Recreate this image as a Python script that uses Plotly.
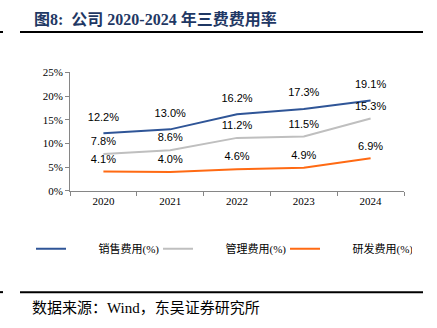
import plotly.graph_objects as go

years = ["2020", "2021", "2022", "2023", "2024"]
sales = [12.2, 13.0, 16.2, 17.3, 19.1]
admin = [7.8, 8.6, 11.2, 11.5, 15.3]
rnd = [4.1, 4.0, 4.6, 4.9, 6.9]
names = ["销售费用(%)", "管理费用(%)", "研发费用(%)"]
colors = ["#2F5597", "#BFBFBF", "#FF6A13"]
label_pad = [14, 8, 8]

W, H = 437, 328
NB = "\u00a0" * 10

fig = go.Figure()
for vals, name, col in zip([sales, admin, rnd], names, colors):
    fig.add_trace(go.Scatter(
        x=years, y=vals, name=NB + name, mode="lines",
        line=dict(color=col, width=2),
    ))
for vals, pad in zip([sales, admin, rnd], label_pad):
    fig.add_trace(go.Scatter(
        x=years, y=vals, mode="markers+text", showlegend=False, hoverinfo="skip",
        marker=dict(size=pad, opacity=0),
        text=[f"{v:.1f}%" for v in vals], textposition="top center",
        textfont=dict(family="Liberation Sans, Arial", size=11, color="#000000"),
        cliponaxis=False,
    ))

fig.update_layout(
    width=W, height=H, margin=dict(l=0, r=0, t=0, b=0),
    paper_bgcolor="white", plot_bgcolor="white",
    showlegend=True,
    legend=dict(orientation="h", x=31 / W, xanchor="left", y=(H - 252) / H, yanchor="middle",
                entrywidth=82, entrywidthmode="pixels",
                font=dict(family="Liberation Serif, Noto Sans CJK SC", size=11, color="#000000"),
                bgcolor="rgba(0,0,0,0)", tracegroupgap=0),
    xaxis=dict(domain=[70 / W, 404 / W], type="category", range=[-0.5, 4.5],
               tickson="boundaries", ticks="outside", ticklen=4, tickcolor="#868686",
               showline=True, linecolor="#868686", linewidth=1, showgrid=False, zeroline=False,
               tickfont=dict(family="Liberation Serif, Times New Roman", size=11, color="#000000")),
    yaxis=dict(domain=[(H - 192) / H, (H - 69) / H], range=[0, 25], dtick=5, ticksuffix="%",
               ticks="outside", ticklen=4, tickcolor="#868686",
               showline=True, linecolor="#868686", linewidth=1, showgrid=False, zeroline=False,
               tickfont=dict(family="Liberation Serif, Times New Roman", size=11, color="#000000")),
)

fig.add_annotation(text="<b>图8:  公司 2020-2024 年三费费用率</b>", xref="paper", yref="paper",
                   x=32 / W, y=(H - 14) / H, xanchor="left", yanchor="middle", showarrow=False,
                   font=dict(family="Liberation Serif, Noto Sans CJK SC", size=16, color="#1F3864"))
fig.add_annotation(text="数据来源：Wind，东吴证券研究所", xref="paper", yref="paper",
                   x=30 / W, y=(H - 313) / H, xanchor="left", yanchor="middle", showarrow=False,
                   font=dict(family="Liberation Serif, Noto Sans CJK SC", size=15, color="#000000"))

for yy in (27, 297):
    fig.add_shape(type="line", xref="paper", yref="paper", x0=20 / W, x1=423 / W,
                  y0=(H - yy) / H, y1=(H - yy) / H, line=dict(color="#000000", width=2))
    fig.add_shape(type="line", xref="paper", yref="paper", x0=0, x1=3 / W,
                  y0=(H - yy) / H, y1=(H - yy) / H, line=dict(color="#000000", width=2))

fig.write_html("out.html")
